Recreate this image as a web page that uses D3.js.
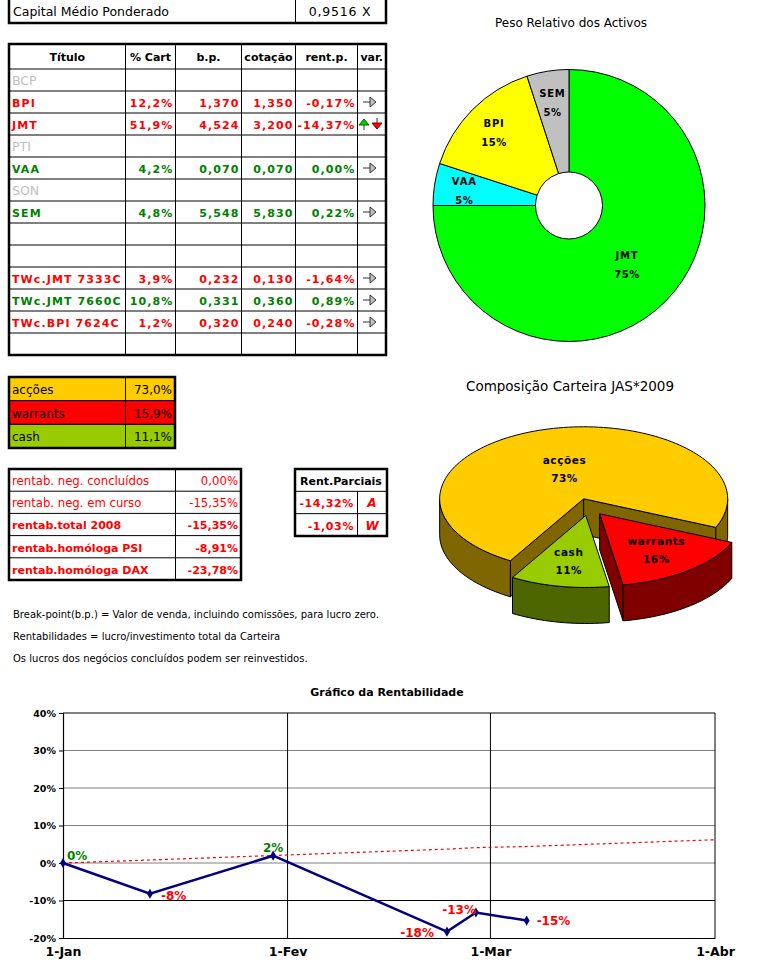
<!DOCTYPE html>
<html>
<head>
<meta charset="utf-8">
<script src="https://cdn.jsdelivr.net/npm/d3@7"></script>
<style>
  body { margin: 0; background: #fff; }
  svg { display: block; font-family: "DejaVu Sans", sans-serif; }
</style>
</head>
<body>
<svg id="chart" width="762" height="969"></svg>
<script>
// ---- data ----
var capitalLabel = "Capital Médio Ponderado";
var capitalValue = 0.9516;

var headers = ["Título", "% Cart", "b.p.", "cotação", "rent.p.", "var."];
var titulos = ["BCP", "BPI", "JMT", "PTI", "VAA", "SON", "SEM", "", "", "TWc.JMT 7333C", "TWc.JMT 7660C", "TWc.BPI 7624C", ""];
var pctCart = [null, 12.2, 51.9, null, 4.2, null, 4.8, null, null, 3.9, 10.8, 1.2, null];
var breakPoint = [null, 1.37, 4.524, null, 0.07, null, 5.548, null, null, 0.232, 0.331, 0.32, null];
var cotacao = [null, 1.35, 3.2, null, 0.07, null, 5.83, null, null, 0.13, 0.36, 0.24, null];
var rentP = [null, -0.17, -14.37, null, 0.0, null, 0.22, null, null, -1.64, 0.89, -0.28, null];
var variacao = [null, "flat", "updown", null, "flat", null, "flat", null, null, "flat", "flat", "flat", null];

var compCats = ["acções", "warrants", "cash"];
var compVals = [73.0, 15.9, 11.1];
var compColors = ["#ffcc00", "#ff0000", "#99cc00"];
var compSides = ["#806600", "#800000", "#4d6600"];

var rentLabels = ["rentab. neg. concluídos", "rentab. neg. em curso", "rentab.total 2008", "rentab.homóloga PSI", "rentab.homóloga DAX"];
var rentVals = [0.0, -15.35, -15.35, -8.91, -23.78];
var rentBold = [false, false, true, true, true];

var parcTitle = "Rent.Parciais";
var parcLabels = ["A", "W"];
var parcVals = [-14.32, -1.03];

var notas = [
  "Break-point(b.p.) = Valor de venda, incluindo comissões, para lucro zero.",
  "Rentabilidades = lucro/investimento total da Carteira",
  "Os lucros dos negócios concluídos podem ser reinvestidos."
];

var pesoCats = ["JMT", "VAA", "BPI", "SEM"];
var pesoVals = [75, 5, 15, 5];
var pesoColors = ["#00ff00", "#00ffff", "#ffff00", "#c0c0c0"];

var rentDates = ["2009-01-01", "2009-01-13", "2009-01-30", "2009-02-23", "2009-02-27", "2009-03-06"];
var rentSerie = [0, -8.2, 1.95, -18.3, -13.2, -15.35];
var refDates = ["2009-01-01", "2009-01-13", "2009-01-30", "2009-02-23", "2009-02-27", "2009-03-06", "2009-04-01"];
var refSerie = [0, 0.8, 2.0, 3.7, 4.1, 4.4, 6.2];
var yTicks = [-20, -10, 0, 10, 20, 30, 40];
var xTicks = ["2009-01-01", "2009-02-01", "2009-03-01", "2009-04-01"];
var monthNames = ["Jan", "Fev", "Mar", "Abr"];

// ---- setup ----
var pt = d3.formatLocale({ decimal: ",", thousands: ".", grouping: [3], currency: ["", " €"], minus: "-" });
var RED = "#ff0000", GREEN = "#008000", GREY = "#c0c0c0";
var svg = d3.select("#chart");
svg.append("rect").attr("width", 762).attr("height", 969).attr("fill", "#fff");

function hline(g, x0, x1, y, w) {
  g.append("line").attr("x1", x0).attr("x2", x1).attr("y1", y).attr("y2", y)
    .attr("stroke", "#000").attr("stroke-width", w || 1);
}
function vline(g, x, y0, y1, w) {
  g.append("line").attr("x1", x).attr("x2", x).attr("y1", y0).attr("y2", y1)
    .attr("stroke", "#000").attr("stroke-width", w || 1);
}
function box(g, x0, y0, x1, y1) {
  g.append("rect").attr("x", x0).attr("y", y0).attr("width", x1 - x0).attr("height", y1 - y0)
    .attr("fill", "none").attr("stroke", "#000").attr("stroke-width", 2.5);
}

// ---- capital box ----
var cap = svg.append("g");
vline(cap, 295.5, 0, 23);
box(cap, 9, -5, 386, 23);
cap.append("text").attr("x", 13).attr("y", 16).attr("font-size", 12.5).text(capitalLabel);
cap.append("text").attr("x", 340).attr("y", 16).attr("font-size", 12.5).attr("text-anchor", "middle")
  .attr("letter-spacing", 0.8).text(pt.format(".4f")(capitalValue) + " X");

// ---- main table ----
var colX = [9, 125.5, 175.5, 241.5, 295.5, 357.5, 386];
var rowY = d3.scaleBand().domain(d3.range(titulos.length)).range([69, 355]);
var tbl = svg.append("g");
rowY.domain().forEach(i => hline(tbl, 9, 386, rowY(i)));
colX.slice(1, -1).forEach(x => vline(tbl, x, 44, 355));
box(tbl, 9, 44, 386, 355);

headers.forEach((h, j) => {
  tbl.append("text").attr("x", (colX[j] + colX[j + 1]) / 2).attr("y", 61)
    .attr("text-anchor", "middle").attr("font-size", 11).attr("font-weight", "bold").text(h);
});

var fPct = v => pt.format(".1f")(v) + "%";
var fNum = pt.format(".3f");
var fRent = v => pt.format(".2f")(v) + "%";

titulos.forEach((t, i) => {
  var y = rowY(i) + 16;
  var off = pctCart[i] == null;
  var col = off ? GREY : (rentP[i] < 0 ? RED : GREEN);
  var row = tbl.append("g").attr("fill", col).attr("font-size", off ? 12.5 : 11)
    .attr("font-weight", off ? "normal" : "bold").attr("letter-spacing", off ? 0 : 1.1);
  row.append("text").attr("x", 12).attr("y", y).text(t);
  if (off) return;
  [fPct(pctCart[i]), fNum(breakPoint[i]), fNum(cotacao[i]), fRent(rentP[i])].forEach((s, j) => {
    row.append("text").attr("x", colX[j + 2] - 2).attr("y", y).attr("text-anchor", "end").text(s);
  });
});

// var. arrows
titulos.forEach((t, i) => {
  if (!variacao[i]) return;
  var cy = rowY(i) + 11, cx = 371;
  var a = tbl.append("g").attr("stroke", "#333").attr("stroke-width", 1);
  if (variacao[i] === "flat") {
    a.append("line").attr("x1", cx - 8).attr("x2", cx).attr("y1", cy).attr("y2", cy);
    a.append("path").attr("d", d3.line()([[cx - 1, cy - 5], [cx + 5, cy], [cx - 1, cy + 5]]) + "Z")
      .attr("fill", GREY);
  } else {
    a.append("line").attr("x1", cx - 7).attr("x2", cx - 7).attr("y1", cy - 2).attr("y2", cy + 6);
    a.append("path").attr("d", d3.line()([[cx - 12, cy + 1], [cx - 7, cy - 5], [cx - 2, cy + 1]]) + "Z")
      .attr("fill", "#00cc00").attr("stroke", "#006600");
    a.append("line").attr("x1", cx + 6).attr("x2", cx + 6).attr("y1", cy - 6).attr("y2", cy + 2);
    a.append("path").attr("d", d3.line()([[cx + 1, cy - 1], [cx + 6, cy + 5], [cx + 11, cy - 1]]) + "Z")
      .attr("fill", RED).attr("stroke", "#800000");
  }
});

// ---- composition table ----
var compY = d3.scaleBand().domain(compCats).range([377, 448]);
var comp = svg.append("g");
compCats.forEach((c, i) => {
  comp.append("rect").attr("x", 9).attr("y", compY(c)).attr("width", 166).attr("height", compY.bandwidth())
    .attr("fill", compColors[i]).attr("stroke", "#000");
  comp.append("text").attr("x", 12).attr("y", compY(c) + 17).attr("font-size", 12).text(c);
  comp.append("text").attr("x", 172).attr("y", compY(c) + 17).attr("font-size", 12)
    .attr("text-anchor", "end").text(fPct(compVals[i]));
});
vline(comp, 125.5, 377, 448);
box(comp, 9, 377, 175, 448);

// ---- rentabilidade table ----
var rentY = d3.scaleBand().domain(d3.range(rentLabels.length)).range([469, 580]);
var rt = svg.append("g").attr("fill", RED);
rentY.domain().forEach(i => {
  hline(rt, 9, 241, rentY(i));
  var w = rentBold[i] ? "bold" : "normal";
  rt.append("text").attr("x", 12).attr("y", rentY(i) + 16).attr("font-size", rentBold[i] ? 11 : 11.7)
    .attr("font-weight", w).text(rentLabels[i]);
  rt.append("text").attr("x", 238).attr("y", rentY(i) + 16).attr("font-size", rentBold[i] ? 11 : 11.7)
    .attr("font-weight", w).attr("text-anchor", "end").text(fRent(rentVals[i]));
});
vline(rt, 175.5, 469, 580);
box(rt, 9, 469, 241, 580);

// ---- rent. parciais ----
var parcY = d3.scaleBand().domain(d3.range(parcLabels.length + 1)).range([469, 536]);
var pr = svg.append("g");
pr.append("text").attr("x", 341).attr("y", parcY(0) + 16).attr("text-anchor", "middle")
  .attr("font-size", 11).attr("font-weight", "bold").text(parcTitle);
parcLabels.forEach((l, i) => {
  var y = parcY(i + 1);
  hline(pr, 295, 387, y);
  pr.append("text").attr("x", 354).attr("y", y + 16).attr("text-anchor", "end").attr("fill", RED)
    .attr("font-size", 11).attr("font-weight", "bold").attr("letter-spacing", 0.6).text(fRent(parcVals[i]));
  pr.append("text").attr("x", 372).attr("y", y + 16).attr("text-anchor", "middle").attr("fill", RED)
    .attr("font-size", 12).attr("font-weight", "bold").attr("font-style", "italic").text(l);
});
vline(pr, 357.5, parcY(1), 536);
box(pr, 295, 469, 387, 536);

// ---- notes ----
notas.forEach((n, i) => {
  svg.append("text").attr("x", 13).attr("y", 618 + i * 22).attr("font-size", 10).text(n);
});

// ---- donut: Peso Relativo dos Activos ----
var dc = [569, 205.5];
svg.append("text").attr("x", 571).attr("y", 27).attr("text-anchor", "middle").attr("font-size", 12)
  .text("Peso Relativo dos Activos");
var donut = svg.append("g").attr("transform", "translate(" + dc + ")");
var pesoPie = d3.pie().sort(null)(pesoVals);
var pesoArc = d3.arc().innerRadius(33.5).outerRadius(136);
donut.selectAll("path").data(pesoPie).enter().append("path")
  .attr("d", pesoArc).attr("fill", (d, i) => pesoColors[i]).attr("stroke", "#000").attr("stroke-width", 1);
donut.selectAll(".lbl").data(pesoPie).enter().append("g").attr("class", "lbl")
  .attr("transform", d => {
    var r = d.value > 50 ? 82 : 106, a = (d.startAngle + d.endAngle) / 2;
    return "translate(" + [r * Math.sin(a), -r * Math.cos(a)] + ")";
  })
  .each(function (d, i) {
    var g = d3.select(this).attr("font-size", 10).attr("font-weight", "bold").attr("text-anchor", "middle");
    g.append("text").attr("y", -4).attr("letter-spacing", 0.8).text(pesoCats[i]);
    g.append("text").attr("y", 15).attr("letter-spacing", 0.5).text(d.value + "%");
  });

// ---- 3D pie: Composição Carteira ----
svg.append("text").attr("x", 570).attr("y", 391).attr("text-anchor", "middle").attr("font-size", 13.5)
  .text("Composição Carteira JAS*2009");
var P3 = { cx: 589, cy: 507, rx: 144, ry: 72, depth: 36, explode: 0.12 };
var rad = deg => deg * Math.PI / 180;
var compPie = d3.pie().sort(null).startAngle(rad(210.6)).endAngle(rad(570.6))(compVals);
var pie3 = svg.append("g").attr("stroke", "#000").attr("stroke-width", 1).attr("stroke-linejoin", "round");

function ePt(ox, oy, a, dz) {
  return [ox + P3.rx * Math.cos(a), oy + P3.ry * Math.sin(a) + (dz || 0)];
}
function arcPts(ox, oy, a0, a1, dz) {
  var n = Math.max(2, Math.ceil(Math.abs(a1 - a0) / rad(2)));
  return d3.range(n + 1).map(k => ePt(ox, oy, a0 + (a1 - a0) * k / n, dz));
}

compPie.forEach((s, i) => {
  var a0 = s.startAngle - Math.PI / 2, a1 = s.endAngle - Math.PI / 2, am = (a0 + a1) / 2;
  var ox = P3.cx + P3.explode * P3.rx * Math.cos(am);
  var oy = P3.cy + P3.explode * P3.ry * Math.sin(am);
  var D = P3.depth, side = compSides[i];
  s.apex = [ox, oy]; s.mid = am;
  // radial walls facing the viewer
  [[a0, a0 - Math.PI / 2], [a1, a1 + Math.PI / 2]].forEach(e => {
    if (Math.sin(e[1]) <= 0) return;
    var p = ePt(ox, oy, e[0]);
    pie3.append("path").attr("fill", side)
      .attr("d", d3.line()([[ox, oy], p, [p[0], p[1] + D], [ox, oy + D]]) + "Z");
  });
  // outer wall, front half only
  [0, 2 * Math.PI].forEach(k => {
    var b0 = Math.max(a0, k), b1 = Math.min(a1, k + Math.PI);
    if (b1 <= b0) return;
    var pts = arcPts(ox, oy, b0, b1, 0).concat(arcPts(ox, oy, b1, b0, D));
    pie3.append("path").attr("fill", side).attr("d", d3.line()(pts) + "Z");
  });
  // top face
  pie3.append("path").attr("fill", compColors[i])
    .attr("d", d3.line()([[ox, oy]].concat(arcPts(ox, oy, a0, a1, 0))) + "Z");
});

compPie.forEach((s, i) => {
  var r = s.value > 50 ? 0.43 : 0.64;
  var x = s.apex[0] + r * P3.rx * Math.cos(s.mid), y = s.apex[1] + r * P3.ry * Math.sin(s.mid);
  var g = svg.append("g").attr("font-size", 10.5).attr("font-weight", "bold").attr("text-anchor", "middle");
  g.append("text").attr("x", x).attr("y", y - 5).attr("letter-spacing", 0.6).text(compCats[i]);
  g.append("text").attr("x", x).attr("y", y + 13).attr("letter-spacing", 0.5).text(Math.round(s.value) + "%");
});

// ---- line chart: Gráfico da Rentabilidade ----
var parse = d3.timeParse("%Y-%m-%d");
var xScale = d3.scaleTime().domain([parse(xTicks[0]), parse(xTicks[xTicks.length - 1])]).range([63, 715]);
var yScale = d3.scaleLinear().domain([-20, 40]).range([938, 713]);
var lc = svg.append("g");

lc.append("text").attr("x", 387).attr("y", 696).attr("text-anchor", "middle").attr("font-size", 11)
  .attr("font-weight", "bold").text("Gráfico da Rentabilidade");

yTicks.forEach(v => {
  if (v === -20) return;
  lc.append("line").attr("x1", 63).attr("x2", 715).attr("y1", yScale(v)).attr("y2", yScale(v))
    .attr("stroke", v < 0 || v === 40 ? "#000" : "#808080").attr("stroke-width", 1);
});
xTicks.slice(1).forEach(d => {
  lc.append("line").attr("x1", xScale(parse(d))).attr("x2", xScale(parse(d)))
    .attr("y1", 713).attr("y2", 938).attr("stroke", "#000");
});

var yAxis = d3.axisLeft(yScale).tickValues(yTicks).tickSize(4).tickPadding(3)
  .tickFormat(v => pt.format("d")(v) + "%");
lc.append("g").attr("transform", "translate(63,0)").call(yAxis)
  .call(g => g.selectAll("text").attr("font-size", 9.5).attr("font-weight", "bold").attr("font-family", "DejaVu Sans"));

var xAxis = d3.axisBottom(xScale).tickValues(xTicks.map(parse)).tickSize(0).tickPadding(9)
  .tickFormat(d => "1-" + monthNames[d.getMonth()]);
lc.append("g").attr("transform", "translate(0,938)").call(xAxis)
  .call(g => g.selectAll("text").attr("font-size", 12.5).attr("font-weight", "bold").attr("font-family", "DejaVu Sans"));
lc.selectAll(".domain").attr("stroke-width", 1.2);

var refLine = d3.line().x((d, i) => xScale(parse(refDates[i]))).y(d => yScale(d));
lc.append("path").attr("d", refLine(refSerie)).attr("fill", "none").attr("stroke", RED)
  .attr("stroke-width", 1.2).attr("stroke-dasharray", "3,3");

var rentLine = d3.line().x((d, i) => xScale(parse(rentDates[i]))).y(d => yScale(d));
lc.append("path").attr("d", rentLine(rentSerie)).attr("fill", "none").attr("stroke", "#000080")
  .attr("stroke-width", 2.5);
var diamond = d3.symbol().type(d3.symbolDiamond).size(30);
rentSerie.forEach((v, i) => {
  lc.append("path").attr("d", diamond)
    .attr("transform", "translate(" + [xScale(parse(rentDates[i])), yScale(v)] + ")").attr("fill", "#000080");
});

// data label placement: [anchor, dx, dy]
var labelPlace = [["start", 4, -3], ["start", 11, 6], ["middle", 0, -4], ["end", -13, 5], ["end", 0, 1], ["start", 10, 4]];
rentSerie.forEach((v, i) => {
  var p = labelPlace[i];
  lc.append("text").attr("x", xScale(parse(rentDates[i])) + p[1]).attr("y", yScale(v) + p[2])
    .attr("text-anchor", p[0]).attr("font-size", 12).attr("font-weight", "bold")
    .attr("fill", Math.round(v) < 0 ? RED : GREEN).text(pt.format("d")(Math.round(v)) + "%");
});
</script>
</body>
</html>
